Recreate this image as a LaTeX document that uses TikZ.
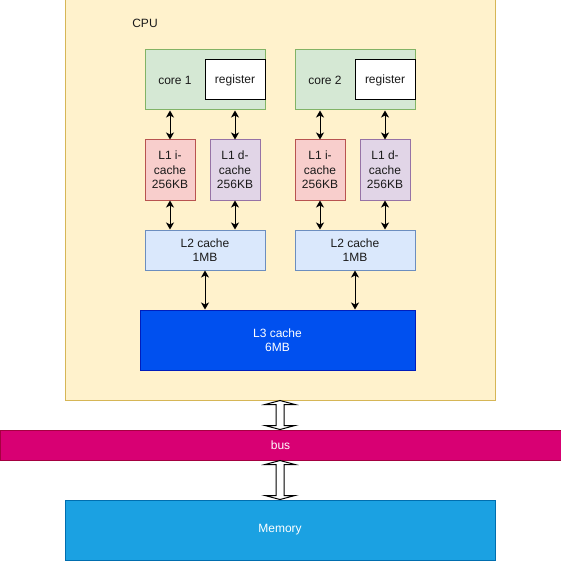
\documentclass[tikz,border=0pt]{standalone}
\usepackage{fontspec}
\setmainfont{Liberation Sans}
\usetikzlibrary{arrows.meta,calc}
\definecolor{cpuF}{HTML}{FFF2CC}\definecolor{cpuD}{HTML}{D6B656}
\definecolor{coreF}{HTML}{D5E8D4}\definecolor{coreD}{HTML}{82B366}
\definecolor{liF}{HTML}{F8CECC}\definecolor{liD}{HTML}{B85450}
\definecolor{ldF}{HTML}{E1D5E7}\definecolor{ldD}{HTML}{9673A6}
\definecolor{ltF}{HTML}{DAE8FC}\definecolor{ltD}{HTML}{6C8EBF}
\definecolor{lthF}{HTML}{0050EF}\definecolor{lthD}{HTML}{001DBC}
\definecolor{busF}{HTML}{D80073}\definecolor{busD}{HTML}{A50040}
\definecolor{memF}{HTML}{1BA1E2}\definecolor{memD}{HTML}{006EAF}
\definecolor{txt}{HTML}{1A1A1A}
\begin{document}
\begin{tikzpicture}[x=1pt,y=-1pt,
  every node/.style={font=\fontsize{12}{14.4}\selectfont, text=txt},
  box/.style={draw, line width=1pt, rectangle, inner sep=0pt, align=center},
  bi/.style={line width=1pt, {Stealth[length=7pt,width=8pt,inset=2pt]}-{Stealth[length=7pt,width=8pt,inset=2pt]}},
  hollow/.style={draw=black, fill=white, line width=1pt, line join=miter}]
\useasboundingbox (0,0) rectangle (561,561);
% CPU
\node[box, fill=cpuF, draw=cpuD, minimum width=430pt, minimum height=400pt] (cpu) at (280,200) {};
\node (cpulbl) at (145,23) {CPU};
% cores
\foreach \i/\ox in {1/0,2/150}{
  \node[box, fill=coreF, draw=coreD, minimum width=120pt, minimum height=60pt] (core\i) at (205+\ox,80) {};
  \node (corelbl\i) at (175+\ox,80) {core \i};
  \node[box, fill=white, draw=black, minimum width=60pt, minimum height=40pt] (reg\i) at (235+\ox,80) {register};
  \node[box, fill=liF, draw=liD, minimum width=50pt, minimum height=60pt] (li\i) at (170+\ox,170) {L1 i-\\cache\\256KB};
  \node[box, fill=ldF, draw=ldD, minimum width=50pt, minimum height=60pt] (ld\i) at (235+\ox,170) {L1 d-\\cache\\256KB};
  \node[box, fill=ltF, draw=ltD, minimum width=120pt, minimum height=40pt] (lt\i) at (205+\ox,250) {L2 cache\\1MB};
}
\node[box, fill=lthF, draw=lthD, minimum width=275pt, minimum height=60pt, text=white] (l3) at (277.5,340) {L3 cache\\6MB};
\node[box, fill=busF, draw=busD, minimum width=561pt, minimum height=30pt, text=white] (bus) at (280.5,445) {bus};
\node[box, fill=memF, draw=memD, minimum width=430pt, minimum height=60pt, text=white] (mem) at (280,530) {Memory};
% arrows
\foreach \i in {1,2}{
  \draw[bi] (li\i.north |- core\i.south) -- (li\i.north);
  \draw[bi] (ld\i.north |- core\i.south) -- (ld\i.north);
  \draw[bi] (li\i.south) -- (li\i.south |- lt\i.north);
  \draw[bi] (ld\i.south) -- (ld\i.south |- lt\i.north);
  \draw[bi] (lt\i.south) -- (lt\i.south |- l3.north);
}
% hollow double arrows
\coordinate (h1a) at (cpu.south);
\coordinate (h1b) at (cpu.south |- bus.north);
\coordinate (h2a) at (cpu.south |- bus.south);
\coordinate (h2b) at (cpu.south |- mem.north);
\foreach \a/\b in {h1a/h1b,h2a/h2b}{
  \draw[hollow] let \p1=(\a), \p2=(\b) in
    (\x1,\y1) -- (\x1+15pt,\y1-4pt) -- (\x1+4pt,\y1-4pt) -- (\x1+4pt,\y2+4pt) -- (\x1+15pt,\y2+4pt) --
    (\x1,\y2) -- (\x1-15pt,\y2+4pt) -- (\x1-4pt,\y2+4pt) -- (\x1-4pt,\y1-4pt) -- (\x1-15pt,\y1-4pt) -- cycle;
}
\end{tikzpicture}
\end{document}
